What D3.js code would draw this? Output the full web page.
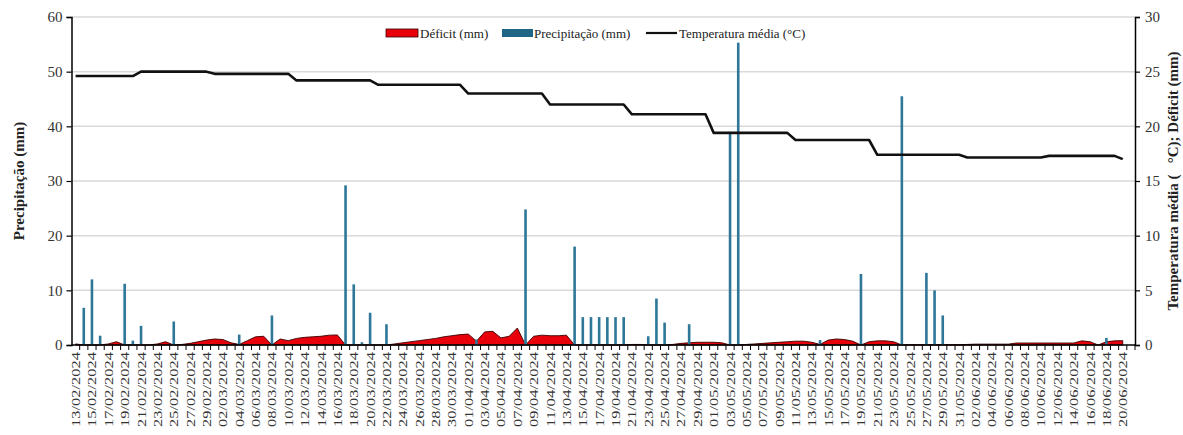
<!DOCTYPE html>
<html>
<head>
<meta charset="utf-8">
<script src="https://cdn.jsdelivr.net/npm/d3@7"></script>
<style>
  body { margin: 0; background: #fff; }
  svg { font-family: "Liberation Serif", "Times New Roman", serif; }
</style>
</head>
<body>
<div id="chart"></div>
<script>
// Daily categories: 13/02/2024 .. 21/06/2024 (last one has no data)
const dates = d3.timeDay.range(new Date(2024, 1, 13), new Date(2024, 5, 22));

// Precipitação (mm), one value per day from 13/02 to 20/06
const precipitacao = [
  0, 6.8, 12.0, 1.7, 0, 0, 11.2, 0.8, 3.5, 0,
  0, 0, 4.3, 0, 0, 0, 0, 0, 0, 0,
  1.9, 0, 0, 0, 5.4, 0, 0, 0, 0, 0,
  0, 0, 0, 29.2, 11.1, 0.5, 5.9, 0, 3.8, 0,
  0, 0, 0, 0, 0, 0, 0, 0, 0, 1.0,
  0, 0, 0, 0, 0, 24.8, 0, 0, 0, 0,
  0, 18.0, 5.1, 5.1, 5.1, 5.1, 5.1, 5.1, 0, 0,
  1.6, 8.5, 4.1, 0, 0, 3.8, 0, 0, 0, 0,
  39.0, 55.3, 0, 0, 0, 0, 0, 0, 0, 0,
  0, 0.9, 0, 0, 0, 0, 13.0, 0, 0, 0,
  0, 45.5, 0, 0, 13.2, 10.0, 5.4, 0, 0, 0,
  0, 0, 0, 0, 0, 0, 0, 0, 0, 0,
  0, 0, 0, 0, 0, 0, 1.3, 0, 0
];

// Déficit (mm), right axis
const deficit = [
  0.1, 0, 0, 0, 0.1, 0.3, 0, 0, 0, 0,
  0.1, 0.3, 0, 0.05, 0.15, 0.3, 0.45, 0.55, 0.5, 0.2,
  0.05, 0.4, 0.75, 0.8, 0, 0.55, 0.4, 0.6, 0.7, 0.75,
  0.8, 0.9, 0.92, 0, 0, 0, 0, 0, 0, 0.1,
  0.2, 0.3, 0.4, 0.5, 0.6, 0.75, 0.85, 0.95, 1.0, 0.35,
  1.2, 1.25, 0.65, 0.8, 1.55, 0, 0.8, 0.9, 0.85, 0.85,
  0.9, 0, 0, 0, 0, 0, 0, 0, 0.05, 0.05,
  0, 0, 0, 0.05, 0.15, 0.2, 0.25, 0.25, 0.25, 0.2,
  0, 0, 0.05, 0.1, 0.15, 0.2, 0.25, 0.3, 0.35, 0.35,
  0.25, 0.05, 0.45, 0.55, 0.5, 0.35, 0, 0.3, 0.38, 0.38,
  0.3, 0, 0.02, 0.02, 0.02, 0.02, 0.02, 0.02, 0.02, 0.05,
  0.08, 0.08, 0.08, 0.08, 0.08, 0.18, 0.18, 0.18, 0.18, 0.18,
  0.18, 0.18, 0.18, 0.38, 0.3, 0, 0.3, 0.38, 0.4
];

// Temperatura média (°C), right axis
const temperatura = [
  24.6, 24.6, 24.6, 24.6, 24.6, 24.6, 24.6, 24.6,
  25.0, 25.0, 25.0, 25.0, 25.0, 25.0, 25.0, 25.0, 25.0,
  24.8, 24.8, 24.8, 24.8, 24.8, 24.8, 24.8, 24.8, 24.8, 24.8,
  24.2, 24.2, 24.2, 24.2, 24.2, 24.2, 24.2, 24.2, 24.2, 24.2,
  23.8, 23.8, 23.8, 23.8, 23.8, 23.8, 23.8, 23.8, 23.8, 23.8, 23.8,
  23.0, 23.0, 23.0, 23.0, 23.0, 23.0, 23.0, 23.0, 23.0, 23.0,
  22.0, 22.0, 22.0, 22.0, 22.0, 22.0, 22.0, 22.0, 22.0, 22.0,
  21.1, 21.1, 21.1, 21.1, 21.1, 21.1, 21.1, 21.1, 21.1, 21.1,
  19.4, 19.4, 19.4, 19.4, 19.4, 19.4, 19.4, 19.4, 19.4, 19.4,
  18.75, 18.75, 18.75, 18.75, 18.75, 18.75, 18.75, 18.75, 18.75, 18.75,
  17.4, 17.4, 17.4, 17.4, 17.4, 17.4, 17.4, 17.4, 17.4, 17.4, 17.4,
  17.15, 17.15, 17.15, 17.15, 17.15, 17.15, 17.15, 17.15, 17.15, 17.15,
  17.3, 17.3, 17.3, 17.3, 17.3, 17.3, 17.3, 17.3, 17.3,
  17.0
];

const leftTicks = [0, 10, 20, 30, 40, 50, 60];
const rightTicks = [0, 5, 10, 15, 20, 25, 30];

const width = 1183, height = 435;
const plot = { left: 71.5, right: 1135, top: 17, bottom: 345 };
const fmt = d3.timeFormat('%d/%m/%Y');

const svg = d3.select('#chart').append('svg')
  .attr('width', width)
  .attr('height', height);

svg.append('rect').attr('width', width).attr('height', height).attr('fill', '#fff');

const x = d3.scaleBand()
  .domain(dates.map(fmt))
  .range([plot.left, plot.right])
  .padding(0);

const yLeft = d3.scaleLinear().domain([0, 60]).range([plot.bottom, plot.top]);
const yRight = d3.scaleLinear().domain([0, 30]).range([plot.bottom, plot.top]);

const cx = i => x(fmt(dates[i])) + x.bandwidth() / 2;

// gridlines
svg.append('g')
  .selectAll('line')
  .data(leftTicks.filter(d => d > 0))
  .join('line')
  .attr('x1', plot.left).attr('x2', plot.right)
  .attr('y1', d => yLeft(d)).attr('y2', d => yLeft(d))
  .attr('stroke', '#d9d9d9')
  .attr('stroke-width', 1.5);

// deficit area
const area = d3.area()
  .x((d, i) => cx(i))
  .y0(yRight(0))
  .y1(d => yRight(d));

svg.append('path')
  .datum(deficit)
  .attr('d', area)
  .attr('fill', '#e8000b')
  .attr('stroke', '#3a0000')
  .attr('stroke-width', 0.9);

// precipitation bars
const barW = 2.6;
svg.append('g')
  .selectAll('rect')
  .data(precipitacao.map((v, i) => ({ v, i })).filter(d => d.v > 0))
  .join('rect')
  .attr('x', d => cx(d.i) - barW / 2)
  .attr('width', barW)
  .attr('y', d => yLeft(d.v))
  .attr('height', d => yLeft(0) - yLeft(d.v))
  .attr('fill', '#2e7799');

// temperature line
const line = d3.line()
  .x((d, i) => cx(i))
  .y(d => yRight(d));

svg.append('path')
  .datum(temperatura)
  .attr('d', line)
  .attr('fill', 'none')
  .attr('stroke', '#111')
  .attr('stroke-width', 2.6)
  .attr('stroke-linejoin', 'round');

// axes
const leftAxis = svg.append('g')
  .attr('transform', `translate(${plot.left},0)`)
  .call(d3.axisLeft(yLeft).tickValues(leftTicks).tickSize(5).tickPadding(4));

const rightAxis = svg.append('g')
  .attr('transform', `translate(${plot.right},0)`)
  .call(d3.axisRight(yRight).tickValues(rightTicks).tickSize(5).tickPadding(5));

[leftAxis, rightAxis].forEach(g => {
  g.select('.domain').attr('stroke', '#000').attr('stroke-width', 1.5);
  g.selectAll('.tick line').attr('stroke', '#000').attr('stroke-width', 1.2);
  g.selectAll('.tick text')
    .attr('fill', '#333')
    .style('font-size', '15px')
    .style('font-family', '"Liberation Serif", serif');
});

// bottom axis: ticks between every category, labels every 2 days
const bottom = svg.append('g');
bottom.append('line')
  .attr('x1', plot.left).attr('x2', plot.right)
  .attr('y1', plot.bottom).attr('y2', plot.bottom)
  .attr('stroke', '#000').attr('stroke-width', 1.5);

bottom.selectAll('line.tk')
  .data(dates)
  .join('line')
  .attr('class', 'tk')
  .attr('x1', d => x(fmt(d)) + x.bandwidth())
  .attr('x2', d => x(fmt(d)) + x.bandwidth())
  .attr('y1', plot.bottom).attr('y2', plot.bottom + 5)
  .attr('stroke', '#000').attr('stroke-width', 1);

bottom.selectAll('text')
  .data(dates.filter((d, i) => i % 2 === 0 && i < precipitacao.length))
  .join('text')
  .attr('transform', d => `translate(${x(fmt(d)) + x.bandwidth() / 2 + 4.5},${plot.bottom + 7}) rotate(-90)`)
  .attr('text-anchor', 'end')
  .attr('fill', '#333')
  .style('font-size', '13px')
  .attr('textLength', 75)
  .attr('lengthAdjust', 'spacingAndGlyphs')
  .text(d => fmt(d));

// axis titles
svg.append('text')
  .attr('transform', `translate(24,${(plot.top + plot.bottom) / 2}) rotate(-90)`)
  .attr('text-anchor', 'middle')
  .style('font-size', '15px')
  .style('font-weight', 'bold')
  .attr('fill', '#222')
  .text('Precipitação (mm)');

svg.append('text')
  .attr('transform', `translate(1178,${(plot.top + plot.bottom) / 2}) rotate(-90)`)
  .attr('text-anchor', 'middle')
  .style('font-size', '15px')
  .style('font-weight', 'bold')
  .attr('fill', '#222')
  .attr('xml:space', 'preserve')
  .text('Temperatura média (   °C); Déficit (mm)');

// legend
const legend = svg.append('g').style('font-size', '13px').attr('fill', '#222');
legend.append('rect').attr('x', 386).attr('y', 29).attr('width', 32).attr('height', 8)
  .attr('fill', '#e8000b').attr('stroke', '#3a0000').attr('stroke-width', 0.8);
legend.append('text').attr('x', 420).attr('y', 38).text('Déficit (mm)');
legend.append('rect').attr('x', 502).attr('y', 29).attr('width', 31).attr('height', 8)
  .attr('fill', '#1f6585');
legend.append('text').attr('x', 534).attr('y', 38).text('Precipitação (mm)');
legend.append('line').attr('x1', 646).attr('x2', 677).attr('y1', 33).attr('y2', 33)
  .attr('stroke', '#111').attr('stroke-width', 2.2);
legend.append('text').attr('x', 679).attr('y', 38).text('Temperatura média (°C)');
</script>
</body>
</html>
